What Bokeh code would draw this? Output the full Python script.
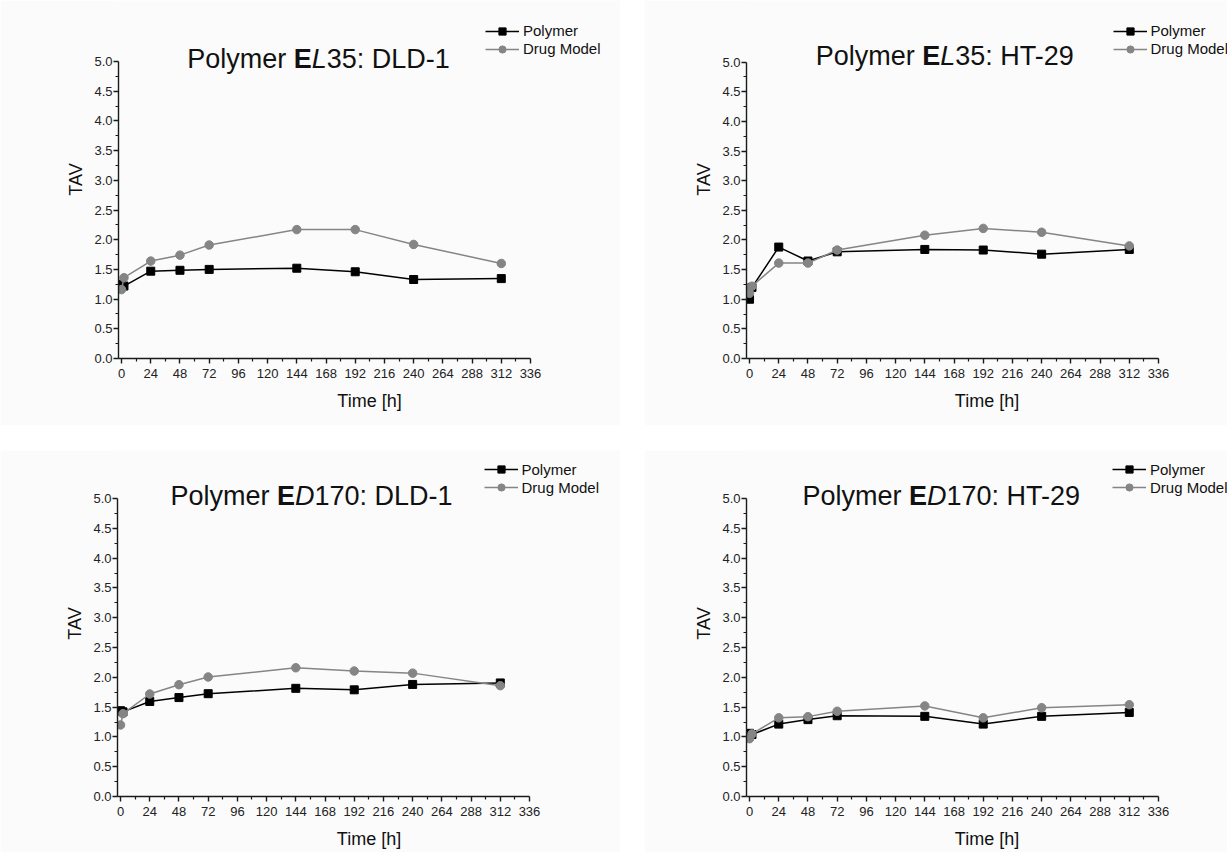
from bokeh.plotting import figure
from bokeh.models import (Label, Legend, LegendItem, FixedTicker,
                          NumeralTickFormatter, Range1d, Spacer)
from bokeh.layouts import column, row
from bokeh.embed import file_html
from bokeh.resources import INLINE

# ---------------- data ----------------
time_h = [0, 2, 24, 48, 72, 144, 192, 240, 312]

el35_dld1_polymer = [1.25, 1.22, 1.47, 1.485, 1.50, 1.52, 1.46, 1.33, 1.345]
el35_dld1_drug = [1.16, 1.36, 1.64, 1.74, 1.91, 2.17, 2.17, 1.92, 1.60]

el35_ht29_polymer = [1.00, 1.20, 1.88, 1.645, 1.80, 1.84, 1.83, 1.76, 1.84]
el35_ht29_drug = [1.10, 1.22, 1.61, 1.61, 1.83, 2.08, 2.195, 2.13, 1.90]

ed170_dld1_polymer = [1.44, 1.42, 1.595, 1.66, 1.725, 1.815, 1.79, 1.88, 1.905]
ed170_dld1_drug = [1.20, 1.39, 1.72, 1.876, 2.005, 2.16, 2.105, 2.07, 1.86]

ed170_ht29_polymer = [1.06, 1.04, 1.215, 1.29, 1.355, 1.345, 1.215, 1.345, 1.41]
ed170_ht29_drug = [0.97, 1.05, 1.32, 1.34, 1.43, 1.52, 1.32, 1.49, 1.54]

x_ticks = [0, 24, 48, 72, 96, 120, 144, 168, 192, 216, 240, 264, 288, 312, 336]
x_minor = [12, 36, 60, 84, 108, 132, 156, 180, 204, 228, 252, 276, 300, 324]
y_ticks = [0.0, 0.5, 1.0, 1.5, 2.0, 2.5, 3.0, 3.5, 4.0, 4.5, 5.0]
y_minor = [0.25, 0.75, 1.25, 1.75, 2.25, 2.75, 3.25, 3.75, 4.25, 4.75]

series_labels = ["Polymer", "Drug Model"]
x_label = "Time [h]"
y_label = "TAV"

# title parts: (text, style)
titles = [
    [("Polymer ", "normal"), ("E", "bold"), ("L", "italic"), ("35: DLD-1", "normal")],
    [("Polymer ", "normal"), ("E", "bold"), ("L", "italic"), ("35: HT-29", "normal")],
    [("Polymer ", "normal"), ("E", "bold"), ("D", "italic"), ("170: DLD-1", "normal")],
    [("Polymer ", "normal"), ("E", "bold"), ("D", "italic"), ("170: HT-29", "normal")],
]
panel_data = [
    (el35_dld1_polymer, el35_dld1_drug),
    (el35_ht29_polymer, el35_ht29_drug),
    (ed170_dld1_polymer, ed170_dld1_drug),
    (ed170_ht29_polymer, ed170_ht29_drug),
]

# ---------------- layout (page pixels) ----------------
# fig origin / size ; axis box L (y axis x), R (x=336), T (y=5), B (x axis y);
# title center x / baseline y ; legend left x / first row centre y
layout_cfg = [
    dict(ox=0, oy=0, w=620, h=425, L=118, R=530, T=61, B=358, tx=318, ty=58, lx=485, ly=30.7),
    dict(ox=644, oy=0, w=583, h=425, L=746, R=1158, T=62, B=360, tx=945, ty=56, lx=1112.5, ly=32.5),
    dict(ox=0, oy=450, w=620, h=402, L=117, R=529, T=498, B=796, tx=311, ty=495, lx=483.5, ly=469),
    dict(ox=644, oy=450, w=583, h=402, L=746, R=1158, T=498, B=796, tx=941.5, ty=495, lx=1112, ly=469),
]

X0, XMAX = -2.5, 336
Y0, YMAX = 0, 5
FONT = "Liberation Sans"
TITLE_SIZE = 27
BG = "#fbfbfb"
AX = "#1a1a1a"
GREY = "#858585"

# Arial / Liberation Sans advance widths (per 1000 em)
W_NORMAL = {'P': 667, 'o': 556, 'l': 222, 'y': 500, 'm': 833, 'e': 556, 'r': 333, ' ': 278,
            '0': 556, '1': 556, '2': 556, '3': 556, '5': 556, '7': 556, '9': 556, ':': 278,
            'D': 722, 'L': 556, '-': 333, 'H': 722, 'T': 611}
W_BOLD = {'E': 667}
W_ITALIC = {'L': 556, 'D': 722}


def text_width(txt, style):
    table = {"normal": W_NORMAL, "bold": W_BOLD, "italic": W_ITALIC}[style]
    return sum(table.get(c, 556) for c in txt) * TITLE_SIZE / 1000.0


def make_panel(cfg, parts, polymer, drug):
    left = cfg["L"] - cfg["ox"]
    bottom = cfg["oy"] + cfg["h"] - cfg["B"]
    kx = (cfg["R"] - cfg["L"]) / (XMAX - X0)
    ky = (cfg["B"] - cfg["T"]) / (YMAX - Y0)
    # frame extends to the figure's top and right edge so that title/legend are not clipped
    x_end = X0 + (cfg["ox"] + cfg["w"] - cfg["L"]) / kx
    y_end = Y0 + (cfg["B"] - cfg["oy"]) / ky

    p = figure(width=cfg["w"], height=cfg["h"], output_backend="svg", toolbar_location=None,
               x_range=Range1d(X0, x_end), y_range=Range1d(Y0, y_end),
               min_border_left=left, min_border_right=0,
               min_border_top=0, min_border_bottom=bottom,
               background_fill_color=BG, border_fill_color=BG)
    p.outline_line_color = None
    p.grid.visible = False

    def dx(px):
        return X0 + (px - cfg["L"]) / kx

    def dy(py):
        return Y0 + (cfg["B"] - py) / ky

    # axes
    for ax in (p.xaxis[0], p.yaxis[0]):
        ax.axis_line_color = AX
        ax.axis_line_width = 1.4
        ax.major_tick_line_color = AX
        ax.major_tick_line_width = 1.4
        ax.minor_tick_line_color = AX
        ax.minor_tick_line_width = 1.2
        ax.major_tick_in = 0
        ax.major_tick_out = 5
        ax.minor_tick_in = 0
        ax.minor_tick_out = 3
        ax.major_label_text_font = FONT
        ax.major_label_text_font_size = "13px"
        ax.major_label_text_color = "#222222"
        ax.axis_label_text_font = FONT
        ax.axis_label_text_font_size = "18px"
        ax.axis_label_text_font_style = "normal"
        ax.axis_label_text_color = "#111111"
    p.xaxis.bounds = (X0, XMAX)
    p.yaxis.bounds = (Y0, YMAX)
    p.xaxis.ticker = FixedTicker(ticks=x_ticks, minor_ticks=x_minor)
    p.yaxis.ticker = FixedTicker(ticks=y_ticks, minor_ticks=y_minor)
    p.yaxis.formatter = NumeralTickFormatter(format="0.0")
    p.xaxis.axis_label = x_label
    p.yaxis.axis_label = y_label
    p.xaxis.major_label_standoff = 5
    p.yaxis.major_label_standoff = 1
    p.xaxis.axis_label_standoff = 10
    p.yaxis.axis_label_standoff = 5

    # series (drug model drawn on top, as in the reference)
    l1 = p.line(time_h, polymer, line_color="black", line_width=1.5)
    s1 = p.scatter(time_h, polymer, marker="square", size=8, fill_color="black", line_color="black")
    l2 = p.line(time_h, drug, line_color=GREY, line_width=1.5)
    s2 = p.scatter(time_h, drug, marker="circle", size=8.5, fill_color=GREY, line_color=GREY)

    legend = Legend(items=[LegendItem(label=series_labels[0], renderers=[l1, s1]),
                           LegendItem(label=series_labels[1], renderers=[l2, s2])],
                    location=(cfg["lx"] - cfg["L"], cfg["B"] - (cfg["ly"] - 9 + 36)),
                    orientation="vertical", padding=0, margin=0, spacing=0,
                    glyph_width=34, glyph_height=18, label_height=18, label_standoff=4,
                    label_text_font=FONT, label_text_font_size="15px",
                    label_text_color="#111111", label_text_baseline="middle",
                    background_fill_alpha=0, border_line_alpha=0)
    p.add_layout(legend, "center")

    # title built from styled pieces
    total = sum(text_width(t, s) for t, s in parts)
    x = cfg["tx"] - total / 2.0
    for t, s in parts:
        p.add_layout(Label(x=dx(x), y=dy(cfg["ty"]), text=t.rstrip(" "),
                           text_font=FONT, text_font_size=f"{TITLE_SIZE}px",
                           text_font_style=s, text_color="#111111",
                           text_align="left", text_baseline="alphabetic"))
        x += text_width(t, s)
    return p


figs = [make_panel(cfg, parts, pol, drg)
        for cfg, parts, (pol, drg) in zip(layout_cfg, titles, panel_data)]

layout = column(
    row(figs[0], Spacer(width=24), figs[1], spacing=0),
    Spacer(height=25),
    row(figs[2], Spacer(width=24), figs[3], spacing=0),
    spacing=0,
)

open("out.html", "w").write(file_html(layout, INLINE))
